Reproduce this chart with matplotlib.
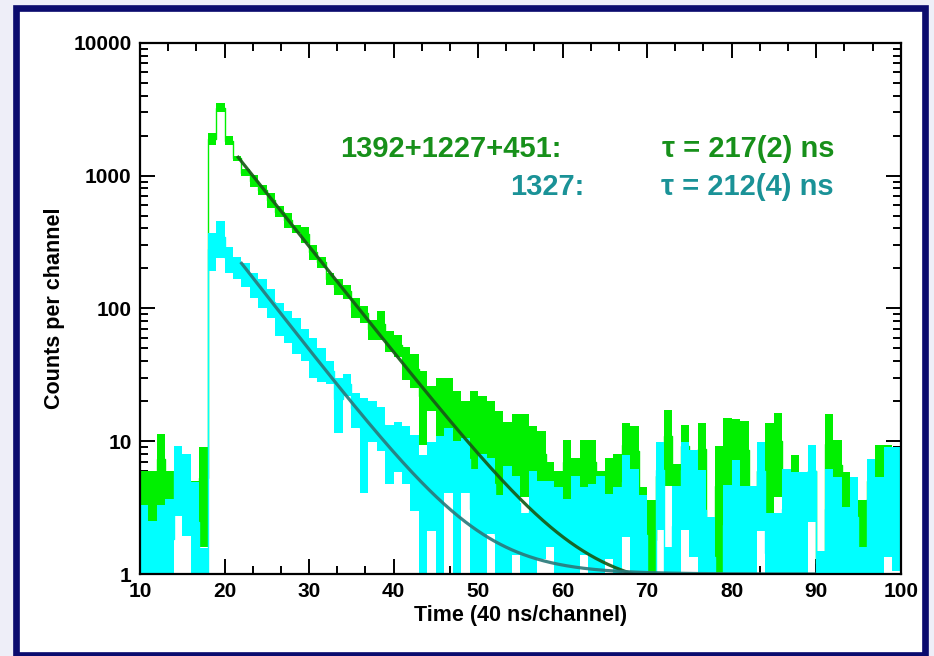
import numpy as np
import matplotlib
matplotlib.use("Agg")
import matplotlib.pyplot as plt
from matplotlib.patches import Rectangle
from matplotlib.ticker import MultipleLocator, LogLocator, NullFormatter, FuncFormatter

# Time channels (left bin edges, 1 channel wide)
channels = np.arange(10, 100)

# 1392+1227+451 keV gate: lower / upper edge of each counts+-error box
green_lower = [3.3, 2.5, 3.3, 3.7, 3.0, 2.5, 2.0, 1.6, 1700, 2990,
               1690, 1290, 985, 820, 710, 570, 485, 400, 370, 310,
               230, 200, 150, 125, 118, 85, 78, 58, 58, 47,
               43, 29, 25, 9.4, 17, 10, 8, 9, 8, 6.2,
               7, 6.5, 3.9, 5, 4, 3.8, 5, 4, 2.5, 2,
               3.7, 2.5, 3.7, 3.7, 2.5, 2.5, 3, 5, 4, 2,
               0, 3, 4.6, 3, 5, 3, 4, 1, 0, 3,
               5, 3, 2, 3, 2, 3.8, 2, 3, 2, 3,
               1, 3, 3, 2, 2, 1.6, 3, 3, 3, 3]
green_upper = [6.0, 6.0, 11.3, 6.0, 8.0, 7.0, 5.0, 9.0, 2090, 3510,
               1970, 1410, 1120, 1010, 850, 735, 585, 520, 425, 410,
               300, 245, 185, 165, 150, 120, 105, 82, 95, 68,
               63, 51, 45, 34, 26, 30, 30, 24, 20, 24,
               22, 20, 17, 14, 16, 16, 13, 12, 7, 6,
               10.2, 7.5, 10.2, 10.2, 6, 7.5, 8, 13.6, 13, 4.5,
               3.6, 8, 17.2, 6.7, 13.3, 8, 13.6, 2.6, 9.2, 14.9,
               14.6, 14.3, 4.5, 9, 13.6, 16.2, 6, 7.9, 5.5, 9,
               1.4, 15.9, 10.2, 5.9, 5, 3.6, 7, 9.4, 9.4, 8]

# 1327 keV gate
cyan_lower = [0, 0, 0, 0, 2.75, 1.93, 0, 0, 190, 240,
              185, 165, 145, 120, 100, 85, 62, 55, 45, 40,
              30, 28, 27, 11.5, 22, 12.5, 4.1, 9.9, 8.5, 4.8,
              5.9, 4.8, 3.0, 0, 2.1, 0, 4.1, 0, 4.1, 0,
              0, 2.0, 0, 0, 1.4, 0, 0, 1.3, 1.6, 0,
              0, 0, 1.4, 0, 0, 1.3, 0, 1.9, 0, 0,
              0, 2.14, 0, 0, 2.14, 1.35, 0, 0, 0, 0,
              0, 0, 0, 2.1, 0, 0, 0, 0, 0, 2.46,
              0, 0, 0, 0, 0, 0, 0, 0, 1.35, 1.05]
cyan_upper = [3.3, 2.5, 3.3, 3.65, 9.2, 7.95, 4.9, 1.58, 369, 451,
              290, 245, 219, 185, 165, 140, 110, 95, 85, 70,
              60, 50, 40, 30, 32, 23, 21, 19.9, 18, 13.3,
              14, 13, 11.1, 7.9, 9.9, 11, 12.5, 10, 10.5, 6.2,
              8, 7.5, 3.9, 6.5, 5.5, 2.9, 6, 5, 5, 4.5,
              3.7, 5.5, 4.5, 4.8, 5.5, 4.0, 4.5, 7.9, 6.2, 3.9,
              0.9, 9.9, 1.6, 4.6, 9.9, 8.6, 6.1, 2.7, 0.9, 4.7,
              7.2, 4.6, 4.6, 9.9, 2.9, 2.9, 6.2, 5.9, 5.9, 9.4,
              1.5, 6.2, 5.4, 3.2, 5.4, 1.6, 7.3, 5.4, 9.0, 9.0]

# Exponential decay fits: amplitude at the fit start, lifetime (ns), flat background
ns_per_channel = 40.0
green_fit = dict(start=21.5, stop=72.0, amp=1400.0, tau_ns=217.0, bkg=0.75)
cyan_fit = dict(start=21.9, stop=90.0, amp=222.0, tau_ns=212.0, bkg=1.0)

GREEN = "#00f000"
CYAN = "#00ffff"
GREEN_FIT = "#175a17"
CYAN_FIT = "#2b7b7c"
GREEN_TEXT = "#17901a"
CYAN_TEXT = "#1a9297"
NAVY = "#0b0b6e"

plt.rcParams["font.family"] = ["Liberation Sans", "DejaVu Sans"]
plt.rcParams["font.weight"] = "bold"

fig = plt.figure(figsize=(9.34, 6.56), dpi=100)
fig.patch.set_facecolor("#eeeef8")

# Framed panel behind the plot
frame = Rectangle((16 / 934, 1 - 654.5 / 656), (925 - 16) / 934, (654.5 - 8.3) / 656,
                  transform=fig.transFigure, facecolor="white", edgecolor=NAVY,
                  linewidth=4.8, zorder=-10)
fig.patches.append(frame)

ax = fig.add_axes([140 / 934, 1 - 574 / 656, (900.7 - 140) / 934, (574 - 42.7) / 656])
ax.set_zorder(5)
ax.set_facecolor("none")
ax.set_yscale("log")
ax.set_xlim(10, 100)
ax.set_ylim(1, 10000)


def draw_series(lower, upper, color, z):
    lo = np.maximum(np.asarray(lower, float), 0.3)
    hi = np.asarray(upper, float)
    ax.bar(channels, hi - lo, bottom=lo, width=1.0, align="edge", color=color,
           linewidth=0, zorder=z)
    mid = np.maximum((np.asarray(lower, float) + hi) / 2.0, 0.3)
    ax.step(np.append(channels, channels[-1] + 1), np.append(mid, mid[-1]), where="post",
            color=color, linewidth=1.0, zorder=z + 0.5)


draw_series(green_lower, green_upper, GREEN, 2)
draw_series(cyan_lower, cyan_upper, CYAN, 3)


def draw_fit(p, color):
    t = np.linspace(p["start"], p["stop"], 400)
    tau_ch = p["tau_ns"] / ns_per_channel
    y = p["amp"] * np.exp(-(t - p["start"]) / tau_ch) + p["bkg"]
    ax.plot(t, y, color=color, linewidth=2.3, alpha=0.92, zorder=5, solid_capstyle="butt")


draw_fit(green_fit, GREEN_FIT)
draw_fit(cyan_fit, CYAN_FIT)

# Axes styling
for s in ax.spines.values():
    s.set_linewidth(1.6)
    s.set_zorder(6)
ax.xaxis.set_major_locator(MultipleLocator(10))
ax.xaxis.set_minor_locator(MultipleLocator(10 / 3))
ax.yaxis.set_major_locator(LogLocator(base=10, numticks=10))
ax.yaxis.set_minor_locator(LogLocator(base=10, subs=np.arange(2, 10), numticks=20))
ax.yaxis.set_minor_formatter(NullFormatter())
ax.yaxis.set_major_formatter(FuncFormatter(lambda v, _: f"{int(round(v))}"))
ax.tick_params(which="both", direction="in", top=True, right=True, width=1.4)
ax.tick_params(which="major", length=10.5, labelsize=15, pad=6)
ax.tick_params(which="minor", length=5.5)
for lab in ax.get_xticklabels() + ax.get_yticklabels():
    lab.set_fontweight("bold")

ax.set_xlabel("Time (40 ns/channel)", fontsize=15.5, fontweight="bold", labelpad=3)
ax.set_ylabel("Counts per channel", fontsize=15.5, fontweight="bold", labelpad=6)

# Lifetime annotations
fs = 21
fig.text(340 / 934, 1 - 157 / 656, "1392+1227+451:", ha="left", va="baseline",
         fontsize=fs, fontweight="bold", color=GREEN_TEXT, zorder=10)
fig.text(834 / 934, 1 - 157 / 656, "\u03c4 = 217(2) ns", ha="right", va="baseline",
         fontsize=fs, fontweight="bold", color=GREEN_TEXT, zorder=10)
fig.text(510 / 934, 1 - 195 / 656, "1327:", ha="left", va="baseline",
         fontsize=fs, fontweight="bold", color=CYAN_TEXT, zorder=10)
fig.text(834 / 934, 1 - 195 / 656, "\u03c4 = 212(4) ns", ha="right", va="baseline",
         fontsize=fs, fontweight="bold", color=CYAN_TEXT, zorder=10)

fig.savefig("out.png", dpi=100, facecolor=fig.get_facecolor())
